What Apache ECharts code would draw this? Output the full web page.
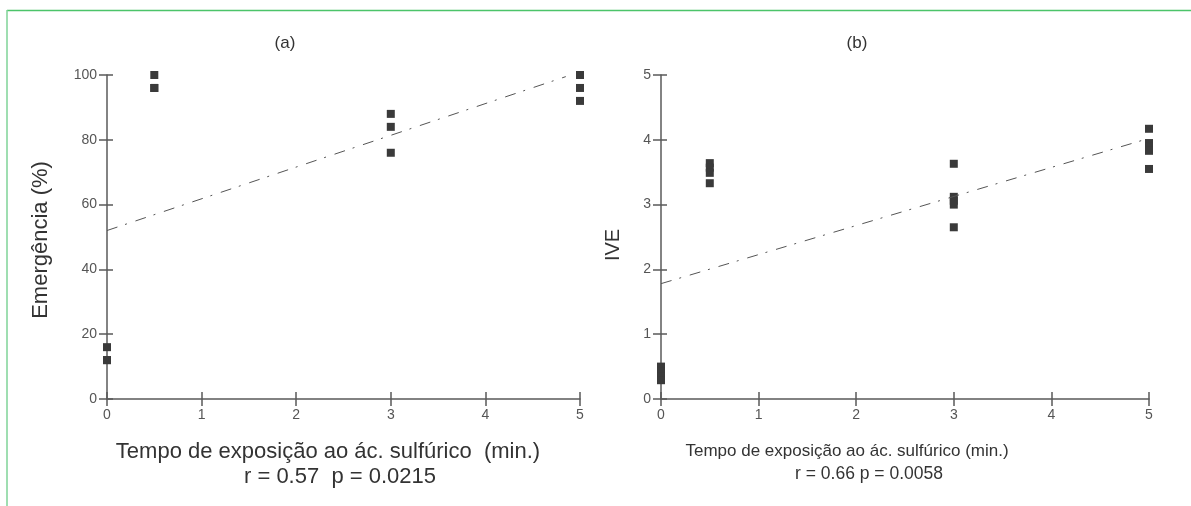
<!DOCTYPE html>
<html><head><meta charset="utf-8">
<script src="https://cdn.jsdelivr.net/npm/echarts@6/dist/echarts.min.js"></script>
<style>html,body{margin:0;padding:0;background:#fff}#c{width:1191px;height:506px}</style>
</head><body><div id="c"></div>
<script>
// Panel (a): Emergência (%)
const aX0 = [0, 0, 0];            const aY0 = [16, 12, 12];
const aX05 = [0.5, 0.5, 0.5];     const aY05 = [100, 96, 96];
const aX3 = [3, 3, 3];            const aY3 = [88, 84, 76];
const aX5 = [5, 5, 5];            const aY5 = [100, 96, 92];
const aTrend = [[0, 52], [4.85, 99.5]];
// Panel (b): IVE
const bX0 = [0, 0, 0, 0];         const bY0 = [0.5, 0.42, 0.35, 0.29];
const bX05 = [0.5, 0.5, 0.5, 0.5];const bY05 = [3.64, 3.57, 3.49, 3.33];
const bX3 = [3, 3, 3, 3, 3];      const bY3 = [3.63, 3.12, 3.06, 3.0, 2.65];
const bX5 = [5, 5, 5, 5, 5];      const bY5 = [4.17, 3.95, 3.89, 3.83, 3.55];
const bTrend = [[0, 1.78], [4.95, 4.0]];
const xTicks = [0, 1, 2, 3, 4, 5];
const aYTicks = [0, 20, 40, 60, 80, 100];
const bYTicks = [0, 1, 2, 3, 4, 5];

function pts(xs, ys){ return xs.map((x,i)=>[x, ys[i]]); }
const aPts = [].concat(pts(aX0,aY0), pts(aX05,aY05), pts(aX3,aY3), pts(aX5,aY5));
const bPts = [].concat(pts(bX0,bY0), pts(bX05,bY05), pts(bX3,bY3), pts(bX5,bY5));

const FONT = 'Liberation Sans, Arial, sans-serif';
const axisCol = '#5a5a5a';
const labelCol = '#555';

function xAx(grid, inside, show){
  return {type:'value', gridIndex:grid, position:'bottom', min:0, max:5, interval:1,
    axisLine:{show:show, onZero:false, lineStyle:{color:axisCol, width:1.5}},
    axisTick:{show:true, inside:inside, length:7, lineStyle:{color:axisCol, width:1.5}},
    axisLabel:{show:!inside, margin:9, color:labelCol, fontSize:14, fontFamily:FONT,
      formatter:v=>xTicks.includes(v)?String(v):''},
    splitLine:{show:false}};
}
function yAx(grid, inside, show, max, interval, ticks){
  return {type:'value', gridIndex:grid, position:'left', min:0, max:max, interval:interval,
    axisLine:{show:show, onZero:false, lineStyle:{color:axisCol, width:1.5}},
    axisTick:{show:true, inside:inside, length:inside?6:8, lineStyle:{color:axisCol, width:1.5}},
    axisLabel:{show:!inside, margin:10, color:labelCol, fontSize:14, fontFamily:FONT,
      formatter:v=>ticks.includes(v)?String(v):''},
    splitLine:{show:false}};
}
const dash = [11, 8, 2, 9];
const chart = echarts.init(document.getElementById('c'));
chart.setOption({
  animation:false,
  backgroundColor:'#fff',
  grid:[
    {left:107, right:1191-580, top:75, bottom:506-399},
    {left:661, right:1191-1149, top:75, bottom:506-399}
  ],
  xAxis:[xAx(0,false,true), xAx(0,true,false), xAx(1,false,true), xAx(1,true,false)],
  yAxis:[yAx(0,false,true,100,20,aYTicks), yAx(0,true,false,100,20,aYTicks),
         yAx(1,false,true,5,1,bYTicks), yAx(1,true,false,5,1,bYTicks)],
  series:[
    {type:'line', xAxisIndex:0, yAxisIndex:0, data:aTrend, symbol:'none', silent:true,
     lineStyle:{color:'#555', width:1, type:dash}},
    {type:'scatter', xAxisIndex:0, yAxisIndex:0, data:aPts, symbol:'rect', symbolSize:8,
     itemStyle:{color:'#3a3a3a', opacity:1}},
    {type:'line', xAxisIndex:2, yAxisIndex:2, data:bTrend, symbol:'none', silent:true,
     lineStyle:{color:'#555', width:1, type:dash}},
    {type:'scatter', xAxisIndex:2, yAxisIndex:2, data:bPts, symbol:'rect', symbolSize:8,
     itemStyle:{color:'#3a3a3a', opacity:1}}
  ],
  graphic:[
    {type:'line', shape:{x1:7, y1:10.5, x2:1191, y2:10.5}, style:{stroke:'#4cc46a', lineWidth:1.5}},
    {type:'line', shape:{x1:7, y1:10, x2:7, y2:506}, style:{stroke:'#7fd397', lineWidth:1.5}},
    {type:'text', x:285, y:43, style:{text:'(a)', font:'17px '+FONT, fill:'#333', align:'center', verticalAlign:'middle'}},
    {type:'text', x:857, y:43, style:{text:'(b)', font:'17px '+FONT, fill:'#333', align:'center', verticalAlign:'middle'}},
    {type:'text', x:41, y:240, rotation:Math.PI/2, style:{text:'Emergência (%)', font:'22px '+FONT, fill:'#333', align:'center', verticalAlign:'middle'}},
    {type:'text', x:613, y:245, rotation:Math.PI/2, style:{text:'IVE', font:'20px '+FONT, fill:'#333', align:'center', verticalAlign:'middle'}},
    {type:'text', x:328, y:452, style:{text:'Tempo de exposição ao ác. sulfúrico  (min.)', font:'22px '+FONT, fill:'#333', align:'center', verticalAlign:'middle'}},
    {type:'text', x:340, y:477, style:{text:'r = 0.57  p = 0.0215', font:'22px '+FONT, fill:'#333', align:'center', verticalAlign:'middle'}},
    {type:'text', x:847, y:451, style:{text:'Tempo de exposição ao ác. sulfúrico (min.)', font:'17px '+FONT, fill:'#333', align:'center', verticalAlign:'middle'}},
    {type:'text', x:869, y:474, style:{text:'r = 0.66 p = 0.0058', font:'17.5px '+FONT, fill:'#333', align:'center', verticalAlign:'middle'}}
  ]
});
</script></body></html>
